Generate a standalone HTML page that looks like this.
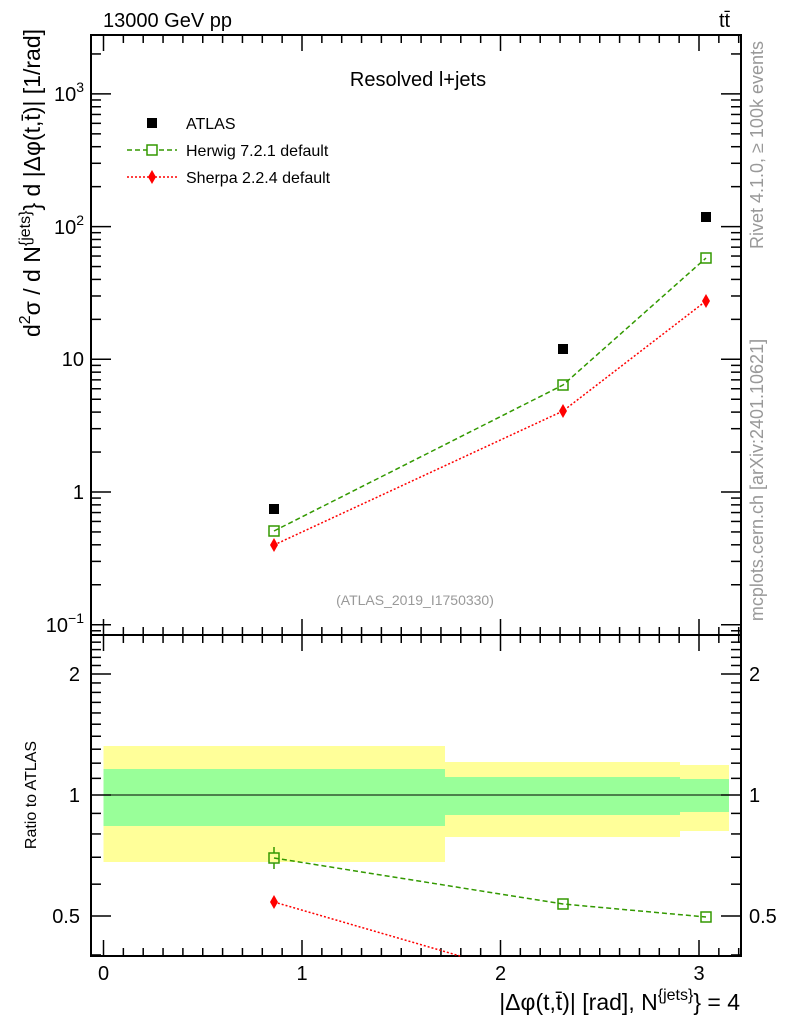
<!DOCTYPE html>
<html><head><meta charset="utf-8"><style>
body{margin:0;background:#fff}
svg{display:block;font-family:"Liberation Sans",sans-serif}
</style></head><body>
<svg id="s" width="786" height="1024" xmlns="http://www.w3.org/2000/svg">
<rect x="103.5" y="746" width="341.5" height="116" fill="#ffff99"/>
<rect x="445" y="762" width="235" height="75" fill="#ffff99"/>
<rect x="680" y="765" width="49" height="66" fill="#ffff99"/>
<rect x="103.5" y="769" width="341.5" height="57" fill="#99ff99"/>
<rect x="445" y="777" width="235" height="38" fill="#99ff99"/>
<rect x="680" y="779" width="49" height="33" fill="#99ff99"/>
<line x1="91" y1="795" x2="741" y2="795" stroke="#000" stroke-width="1"/>
<g id="ticks" stroke="#000" stroke-width="1.5"></g>
<rect x="91" y="35" width="650" height="600" fill="none" stroke="#000" stroke-width="2"/>
<rect x="91" y="635" width="650" height="321" fill="none" stroke="#000" stroke-width="2"/>
<polyline points="274,531 563,385 706,258" fill="none" stroke="#339900" stroke-width="1.5" stroke-dasharray="5,3"/>
<polyline points="274,545 563,411 706,301" fill="none" stroke="#ff0000" stroke-width="1.5" stroke-dasharray="2,2"/>
<rect x="269" y="504" width="10" height="10" fill="#000"/>
<rect x="558" y="344" width="10" height="10" fill="#000"/>
<rect x="701" y="212" width="10" height="10" fill="#000"/>
<g fill="none" stroke="#339900" stroke-width="1.5">
<rect x="269" y="526" width="10" height="10"/><rect x="558" y="380" width="10" height="10"/><rect x="701" y="253" width="10" height="10"/>
<rect x="269" y="853" width="10" height="10"/><rect x="558" y="899" width="10" height="10"/><rect x="701" y="912" width="10" height="10"/>
<line x1="274" y1="847" x2="274" y2="853"/><line x1="274" y1="863" x2="274" y2="869"/>
</g>
<polyline points="274,858 563,904 706,917" fill="none" stroke="#339900" stroke-width="1.5" stroke-dasharray="5,3"/>
<polyline points="274,902 460,956" fill="none" stroke="#ff0000" stroke-width="1.5" stroke-dasharray="2,2"/>
<g fill="#ff0000">
<polygon points="274,538 278,545 274,552 270,545"/><polygon points="563,404 567,411 563,418 559,411"/><polygon points="706,294 710,301 706,308 702,301"/>
<polygon points="274,895 278,902 274,909 270,902"/>
</g>
<g font-size="20" fill="#000">
<text x="103" y="27">13000 GeV pp</text>
<text x="719" y="27">tt̄</text>
<text x="418" y="86" text-anchor="middle">Resolved l+jets</text>
</g>
<g font-size="16">
<rect x="147" y="118" width="10" height="10"/>
<text x="186" y="129">ATLAS</text>
<line x1="127" y1="150" x2="177" y2="150" stroke="#339900" stroke-width="1.5" stroke-dasharray="5,3"/>
<rect x="147" y="145" width="10" height="10" fill="#fff" stroke="#339900" stroke-width="1.5"/>
<text x="186" y="156">Herwig 7.2.1 default</text>
<line x1="127" y1="177" x2="177" y2="177" stroke="#ff0000" stroke-width="1.5" stroke-dasharray="2,2"/>
<polygon points="152,170 156,177 152,184 148,177" fill="#ff0000"/>
<text x="186" y="183">Sherpa 2.2.4 default</text>
</g>
<text x="415" y="605" font-size="14" fill="#999" text-anchor="middle">(ATLAS_2019_I1750330)</text>
<g font-size="20" text-anchor="end">
<text x="84" y="101">10<tspan font-size="14" dy="-9">3</tspan></text>
<text x="84" y="234">10<tspan font-size="14" dy="-9">2</tspan></text>
<text x="84" y="366">10</text>
<text x="84" y="499">1</text>
<text x="84" y="632">10<tspan font-size="14" dy="-9">−1</tspan></text>
<text x="80" y="681">2</text>
<text x="80" y="802">1</text>
<text x="80" y="923">0.5</text>
</g>
<g font-size="20">
<text x="749" y="681">2</text>
<text x="749" y="802">1</text>
<text x="749" y="923">0.5</text>
</g>
<g font-size="20" text-anchor="middle">
<text x="103.5" y="980">0</text><text x="302" y="980">1</text><text x="500.5" y="980">2</text><text x="699" y="980">3</text>
</g>
<text x="740" y="1010" font-size="23" text-anchor="end">|Δφ(t,t̄)| [rad], N<tspan font-size="16" dy="-10">{jets}</tspan><tspan dy="10">} = 4</tspan></text>
<text transform="translate(40,183) rotate(-90)" font-size="23" text-anchor="middle">d<tspan font-size="16" dy="-10">2</tspan><tspan dy="10">σ / d N</tspan><tspan font-size="16" dy="-10">{jets}</tspan><tspan dy="10">} d |Δφ(t,t̄)| [1/rad]</tspan></text>
<text transform="translate(36,795) rotate(-90)" font-size="16" text-anchor="middle">Ratio to ATLAS</text>
<text transform="translate(763,145) rotate(-90)" font-size="18" fill="#999" text-anchor="middle">Rivet 4.1.0, ≥ 100k events</text>
<text transform="translate(763,480) rotate(-90)" font-size="18" fill="#999" text-anchor="middle">mcplots.cern.ch [arXiv:2401.10621]</text>
</svg>
<script>
var g=document.getElementById('ticks'),h='';
function L(a,b,c,d){h+='<line x1="'+a+'" y1="'+b+'" x2="'+c+'" y2="'+d+'"/>';}
for(var i=0;i<=32;i++){var x=103.5+i*19.85;if(x>741)break;var big=i%10==0;var l=big?16:8;
L(x,635,x,635-l);L(x,35,x,35+l);L(x,956,x,956-l);L(x,635,x,635+l);}
function ym(v){return 492-132.7*Math.log10(v);}
for(var e=-2;e<=3;e++)for(var k=1;k<10;k++){var v=k*Math.pow(10,e);var y=ym(v);if(y<35||y>635)continue;var l=k==1?20:10;L(91,y,91+l,y);L(741,y,741-l,y);}
function yr(v){return 795-121*Math.log2(v);}
var rv=[0.4,0.5,0.6,0.7,0.8,0.9,1,1.1,1.2,1.3,1.4,1.5,1.6,1.7,1.8,1.9,2,2.1,2.2,2.3,2.4,2.5];
rv.forEach(function(v){var y=yr(v);if(y<635||y>956)return;var l=(v==0.5||v==1||v==2)?20:10;L(91,y,91+l,y);L(741,y,741-l,y);});
g.innerHTML=h;
</script>
</body></html>
